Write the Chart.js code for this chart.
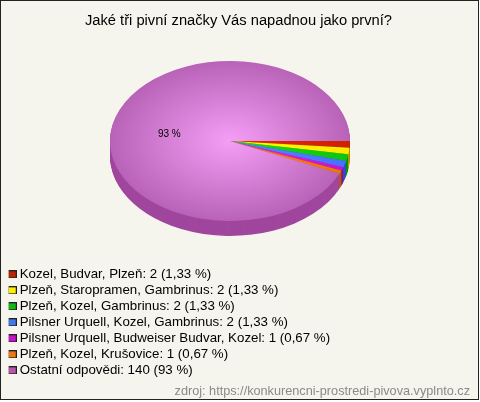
<!DOCTYPE html>
<html>
<head>
<meta charset="utf-8">
<style>html,body{margin:0;padding:0;background:#fff}canvas{display:block}</style>
<script src="https://cdn.jsdelivr.net/npm/chart.js@4/dist/chart.umd.min.js"></script>
</head>
<body>
<canvas id="c" width="480" height="402"></canvas>
<script>
const categories = [
  "Kozel, Budvar, Plzeň: 2 (1,33 %)",
  "Plzeň, Staropramen, Gambrinus: 2 (1,33 %)",
  "Plzeň, Kozel, Gambrinus: 2 (1,33 %)",
  "Pilsner Urquell, Kozel, Gambrinus: 2 (1,33 %)",
  "Pilsner Urquell, Budweiser Budvar, Kozel: 1 (0,67 %)",
  "Plzeň, Kozel, Krušovice: 1 (0,67 %)",
  "Ostatní odpovědi: 140 (93 %)"
];
const values = [2, 2, 2, 2, 1, 1, 140];
const sliceLabels = ["", "", "", "", "", "", "93 %"];
const innerColors = ["#dd2a08", "#ffff00", "#18dd18", "#5588ff", "#ee22ee", "#ff8800", "#f59ef5"];
const outerColors = ["#cc2200", "#ffe800", "#0fc40f", "#4870ff", "#cc10cc", "#ee7700", "#b862b8"];
const sideColors  = ["#a01a00", "#c8a800", "#0b8f0b", "#2f4fc0", "#8f0b8f", "#c05c00", "#a0469e"];
const legendColors = ["#bb2200", "#ffee00", "#11bb11", "#4477ee", "#cc11cc", "#ee7711", "#bb55aa"];
const titleText = "Jaké tři pivní značky Vás napadnou jako první?";
const sourceText = "zdroj: https://konkurencni-prostredi-pivova.vyplnto.cz";

const CX = 230, CY = 141, RX = 120, RY = 80, DEPTH = 15;
const FONT = "'Liberation Sans', Arial, sans-serif";

function zeroBox(box) {
  if (box._wrapped) return;
  box._wrapped = true;
  const fit = box.fit;
  box.fit = function () { fit.call(this); this.width = 0; this.height = 0; };
  if (box.update) {
    const up = box.update;
    box.update = function (a, b, m) { up.call(this, a, b, m); this.width = 0; this.height = 0; this.minSize = {width:0,height:0}; return {width:0,height:0}; };
  }
}
function place(box, l, t, w, h) {
  box.left = l; box.top = t; box.right = l + w; box.bottom = t + h; box.width = w; box.height = h;
}
function transform(ctx) {
  ctx.translate(CX, CY);
  ctx.scale(1, RY / RX);
  ctx.translate(-CX, -CY);
}
function swatch(color) {
  const s = document.createElement("canvas");
  s.width = 9; s.height = 8;
  const x = s.getContext("2d");
  x.fillStyle = color;
  x.fillRect(0, 0, 9, 8);
  x.strokeStyle = "#222";
  x.lineWidth = 1;
  x.strokeRect(0.5, 0.5, 8, 7);
  return s;
}

const piePlugin = {
  id: "pie3d",
  beforeLayout(chart) {
    zeroBox(chart.legend);
    zeroBox(chart.titleBlock);
  },
  afterLayout(chart) {
    place(chart.legend, 8.65, 265, 400, 120);
    place(chart.titleBlock, 0, 12, 477, 20);
  },
  beforeDraw(chart) {
    const ctx = chart.ctx;
    ctx.save();
    ctx.fillStyle = "#ffffff";
    ctx.fillRect(0, 0, 480, 402);
    ctx.fillStyle = "#f5f5ed";
    ctx.fillRect(0, 0, 479, 400);
    ctx.strokeStyle = "#222222";
    ctx.lineWidth = 1;
    ctx.strokeRect(0.5, 0.5, 478, 399);
    ctx.fillStyle = "#8a8a8a";
    ctx.font = "12.7px " + FONT;
    ctx.textAlign = "right";
    ctx.textBaseline = "alphabetic";
    ctx.fillText(sourceText, 470, 395);
    ctx.restore();
  },
  beforeDatasetsDraw(chart) {
    const ctx = chart.ctx;
    const arcs = chart.getDatasetMeta(0).data;
    ctx.save();
    transform(ctx);
    for (let d = DEPTH; d >= 1; d--) {
      ctx.save();
      ctx.translate(0, d * RX / RY);
      arcs.forEach((arc, i) => {
        const o = arc.options;
        arc.options = Object.assign({}, o, { backgroundColor: sideColors[i], borderWidth: 0 });
        arc.draw(ctx);
        arc.options = o;
      });
      ctx.restore();
    }
  },
  afterDatasetsDraw(chart) {
    const ctx = chart.ctx;
    ctx.restore();
    const arcs = chart.getDatasetMeta(0).data;
    ctx.save();
    ctx.fillStyle = "#000";
    ctx.font = "10px " + FONT;
    ctx.textAlign = "center";
    ctx.textBaseline = "middle";
    arcs.forEach((arc, i) => {
      if (!sliceLabels[i]) return;
      const p = arc.getCenterPoint();
      ctx.fillText(sliceLabels[i], p.x - 2, CY + (p.y - CY) * RY / RX + 2);
    });
    ctx.restore();
  }
};

new Chart(document.getElementById("c"), {
  type: "pie",
  data: {
    labels: categories,
    datasets: [{
      data: values,
      backgroundColor(c) {
        const i = c.dataIndex;
        const g = c.chart.ctx.createRadialGradient(CX, CY, 0, CX, CY, RX);
        g.addColorStop(0, innerColors[i]);
        g.addColorStop(1, outerColors[i]);
        return g;
      },
      borderWidth: 0
    }]
  },
  plugins: [piePlugin],
  options: {
    responsive: false,
    animation: false,
    devicePixelRatio: 1,
    rotation: 90,
    layout: { padding: { left: CX - RX, right: 480 - CX - RX, top: CY - RX, bottom: 402 - CY - RX } },
    plugins: {
      tooltip: { enabled: false },
      title: {
        display: true,
        text: titleText,
        color: "#000",
        font: { family: FONT, size: 14.7, weight: "normal" },
        padding: 0
      },
      legend: {
        display: true,
        position: "left",
        align: "start",
        labels: {
          color: "#000",
          font: { family: FONT, size: 13.3 },
          usePointStyle: true,
          pointStyleWidth: 1.7,
          boxHeight: 9,
          padding: 2.7,
          generateLabels() {
            return categories.map((t, i) => ({
              text: t,
              fillStyle: legendColors[i],
              strokeStyle: "#222",
              lineWidth: 1,
              pointStyle: swatch(legendColors[i]),
              index: i
            }));
          }
        }
      }
    }
  }
});
</script>
</body>
</html>
